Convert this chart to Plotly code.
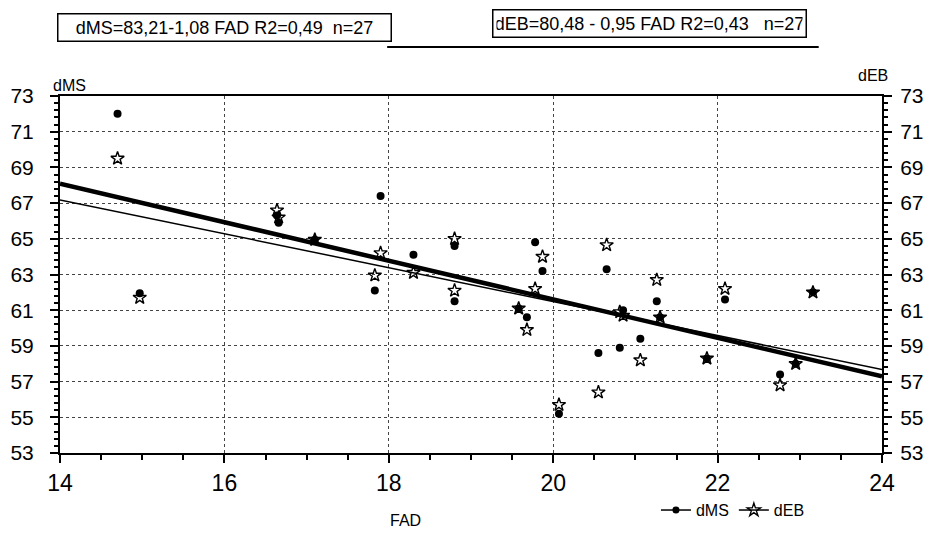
import plotly.graph_objects as go

# ---- data ----
fad = [14.70, 14.97, 16.64, 16.66, 17.10, 17.83, 17.90, 18.30, 18.80, 18.80,
       19.58, 19.68, 19.78, 19.87, 20.07, 20.55, 20.65, 20.81, 20.85, 21.06,
       21.26, 21.30, 21.87, 22.09, 22.76, 22.95, 23.16]
dms = [72.0, 61.95, 66.3, 65.9, 64.95, 62.1, 67.4, 64.1, 64.6, 61.5,
       61.1, 60.6, 64.8, 63.2, 55.2, 58.6, 63.3, 58.9, 61.0, 59.4,
       61.5, 60.6, 58.3, 61.6, 57.4, 58.0, 62.0]
deb = [69.5, 61.7, 66.6, 66.2, 64.95, 62.95, 64.2, 63.1, 65.0, 62.1,
       61.1, 59.9, 62.2, 64.0, 55.7, 56.4, 64.65, 60.9, 60.7, 58.2,
       62.7, 60.6, 58.3, 62.2, 56.8, 58.0, 62.0]

# regression equations shown on the chart
fit_intercept = [83.21, 80.48]
fit_slope = [-1.08, -0.95]
fit_x = [14, 24]
eq_texts = ["dMS=83,21-1,08 FAD R2=0,49  n=27", "dEB=80,48 - 0,95 FAD R2=0,43   n=27"]

x_ticks = [14, 16, 18, 20, 22, 24]
y_ticks = [53, 55, 57, 59, 61, 63, 65, 67, 69, 71, 73]

FONT = "Liberation Sans, Arial, sans-serif"

fig = go.Figure()

# regression lines (dMS thick, dEB thin)
widths = [4.5, 1.5]
for i in range(2):
    fig.add_trace(go.Scatter(
        x=fit_x, y=[fit_intercept[i] + fit_slope[i] * v for v in fit_x],
        mode="lines", line=dict(color="black", width=widths[i]),
        showlegend=False, hoverinfo="skip"))

# scatter points
fig.add_trace(go.Scatter(x=fad, y=dms, mode="markers", name="dMS",
                         marker=dict(symbol="circle", size=8, color="black"),
                         showlegend=False))
fig.add_trace(go.Scatter(x=fad, y=deb, mode="markers", name="dEB", yaxis="y2",
                         marker=dict(symbol="star-open", size=10, color="black",
                                     line=dict(color="black", width=1.4)),
                         showlegend=False))

# legend entries
fig.add_trace(go.Scatter(x=[None], y=[None], mode="lines+markers", name="dMS",
                         line=dict(color="black", width=1.5),
                         marker=dict(symbol="circle", size=7, color="black")))
fig.add_trace(go.Scatter(x=[None], y=[None], mode="lines+markers", name="dEB",
                         line=dict(color="black", width=1.5),
                         marker=dict(symbol="star-open", size=10, color="black",
                                     line=dict(color="black", width=1.4))))

axis_common = dict(
    ticks="outside", ticklen=8, tickwidth=1.5, tickcolor="black",
    showline=True, linecolor="black", linewidth=2,
    zeroline=False, automargin=False,
)

# page body has an 8px margin: figure is sized/positioned to compensate
fig.update_layout(
    width=916, height=530,
    margin=dict(l=52, r=42, t=88, b=85, autoexpand=False),
    paper_bgcolor="white", plot_bgcolor="white",
    font=dict(family=FONT, color="black", size=15),
    xaxis=dict(range=[14, 24], tickvals=x_ticks, mirror=True,
               showgrid=True, gridcolor="#444", griddash="dot", gridwidth=1,
               tickfont=dict(size=23, family=FONT),
               minor=dict(dtick=0.5, ticks="outside", ticklen=5, tickcolor="black", showgrid=False),
               **axis_common),
    yaxis=dict(range=[53, 73], tickvals=y_ticks,
               showgrid=True, gridcolor="#444", griddash="dot", gridwidth=1,
               tickfont=dict(size=21, family=FONT), ticklabelstandoff=12,
               minor=dict(dtick=0.4, tick0=53, ticks="outside", ticklen=4, tickcolor="black", showgrid=False),
               **axis_common),
    yaxis2=dict(range=[53, 73], tickvals=y_ticks, overlaying="y", side="right",
                showgrid=False,
                tickfont=dict(size=21, family=FONT), ticklabelstandoff=4,
                minor=dict(dtick=0.4, tick0=53, ticks="outside", ticklen=4, tickcolor="black", showgrid=False),
                **axis_common),
    legend=dict(orientation="h", x=0.725, y=-0.16, xanchor="left", yanchor="middle",
                font=dict(size=16, family=FONT), bgcolor="rgba(0,0,0,0)",
                itemwidth=30, tracegroupgap=0),
    showlegend=True,
)

# axis titles
fig.add_annotation(text="dMS", xref="paper", yref="paper", x=0, y=1,
                   xanchor="left", yanchor="bottom", xshift=-9, yshift=0,
                   showarrow=False, font=dict(size=16))
fig.add_annotation(text="dEB", xref="paper", yref="paper", x=1, y=1,
                   xanchor="center", yanchor="bottom", xshift=-9, yshift=10,
                   showarrow=False, font=dict(size=16))
fig.add_annotation(text="FAD", xref="paper", yref="paper", x=0.42, y=0,
                   xanchor="center", yanchor="middle", yshift=-67,
                   showarrow=False, font=dict(size=16))

# equation boxes
fig.add_annotation(text=eq_texts[0], xref="paper", yref="paper", x=0.200, y=1.193,
                   xanchor="center", yanchor="middle", showarrow=False,
                   bordercolor="black", borderwidth=1.5, borderpad=3, bgcolor="white",
                   width=326, font=dict(size=18))
fig.add_annotation(text=eq_texts[1], xref="paper", yref="paper", x=0.717, y=1.202,
                   xanchor="center", yanchor="middle", showarrow=False,
                   bordercolor="black", borderwidth=1.5, borderpad=3, bgcolor="white",
                   width=306, font=dict(size=18))
fig.add_shape(type="line", xref="paper", yref="paper", x0=0.398, x1=0.923,
              y0=1.137, y1=1.137, line=dict(color="black", width=2))

fig.write_html("out.html")
